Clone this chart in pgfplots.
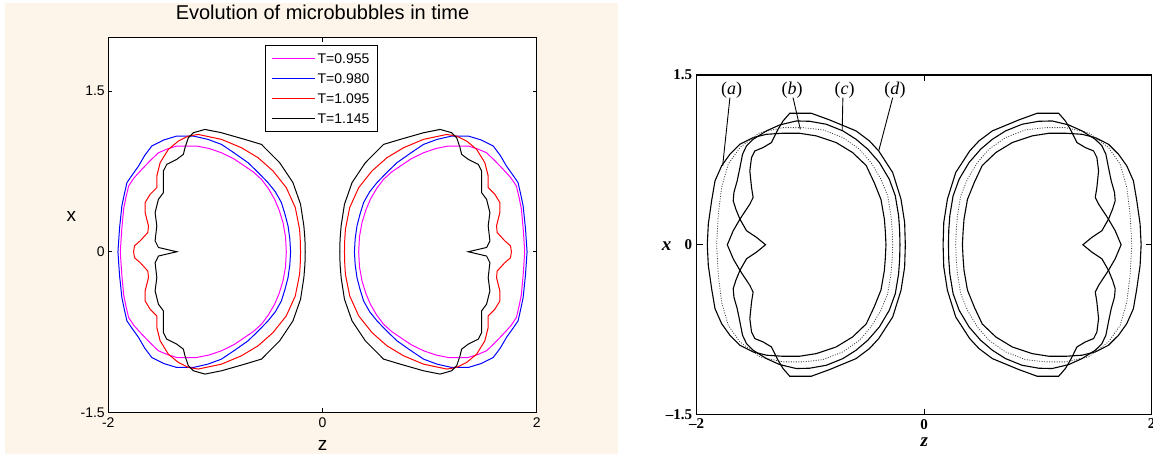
\documentclass[border=0pt]{standalone}
\usepackage{fontspec}
\setmainfont{Liberation Sans}
\newfontfamily\tnr{Liberation Serif}
\usepackage{pgfplots}
\pgfplotsset{compat=1.18}
\definecolor{beige}{RGB}{253,245,234}
\definecolor{mag}{RGB}{255,0,255}
\definecolor{blu}{RGB}{0,0,255}
\definecolor{rd}{RGB}{255,0,0}
\begin{document}
\begin{tikzpicture}
\path[use as bounding box] (0pt,0pt) rectangle (1153pt,-454pt);
\fill[beige] (5pt,-3pt) rectangle (618pt,-454pt);
% ---------------- left panel ----------------
\begin{axis}[
  at={(108.3pt,-412.3pt)}, anchor=south west,
  scale only axis, width=428.4pt, height=374.6pt,
  xmin=-2, xmax=2, ymin=-1.5, ymax=2,
  axis background/.style={fill=white},
  axis line style={line width=1pt},
  xtick={-2,0,2}, xticklabels={-2,0,2},
  ytick={-1.5,0,1.5}, yticklabels={-1.5,0,1.5},
  tick align=inside, major tick length=4pt, tick style={black,line width=0.8pt},
  ticklabel style={font=\fontsize{14}{14}\selectfont},
  xticklabel style={yshift=-2pt},
  title={Evolution of microbubbles in time},
  title style={font=\fontsize{20}{20}\selectfont, at={(axis description cs:0.5,1)}, anchor=base, yshift=12.5pt},
  xlabel={z}, xlabel style={font=\fontsize{19}{19}\selectfont, at={(axis description cs:0.5,0)}, anchor=base, yshift=-38pt},
  ylabel={x}, ylabel style={font=\fontsize{19}{19}\selectfont, rotate=-90, at={(axis description cs:-0.086,0.522)}, anchor=center},
  legend style={at={(axis description cs:0.366,0.9805)}, anchor=north west, draw=black, line width=1pt, fill=white,
    font=\fontsize{14}{14}\selectfont, row sep=6.3pt, column sep=0pt, inner xsep=6pt, inner ysep=5.5pt,
    nodes={inner sep=2pt, text height=10pt, text depth=0pt}, cells={anchor=west}},
  legend image code/.code={\draw[#1,line width=1pt] (0pt,0pt) -- (43pt,0pt);},
  every axis plot/.append style={line width=1pt},
]
\addplot[mag] coordinates {(-0.338,0) (-0.345,0.14) (-0.369,0.273) (-0.405,0.39) (-0.447,0.49) (-0.505,0.59) (-0.570,0.677) (-0.645,0.745) (-0.726,0.80) (-0.83,0.87) (-0.943,0.925) (-1.06,0.965) (-1.175,0.988) (-1.361,0.988) (-1.45,0.96) (-1.532,0.925) (-1.61,0.85) (-1.687,0.77) (-1.76,0.69) (-1.81,0.615) (-1.835,0.51) (-1.857,0.40) (-1.875,0.20) (-1.888,0) (-1.875,-0.20) (-1.857,-0.40) (-1.835,-0.51) (-1.81,-0.615) (-1.76,-0.69) (-1.687,-0.77) (-1.61,-0.85) (-1.532,-0.925) (-1.45,-0.96) (-1.361,-0.988) (-1.175,-0.988) (-1.06,-0.965) (-0.943,-0.925) (-0.83,-0.87) (-0.726,-0.80) (-0.645,-0.745) (-0.570,-0.677) (-0.505,-0.59) (-0.447,-0.49) (-0.405,-0.39) (-0.369,-0.273) (-0.345,-0.14) (-0.338,0)};
\addlegendentry{T=0.955}
\addplot[mag, forget plot] coordinates {(0.338,0) (0.345,0.14) (0.369,0.273) (0.405,0.39) (0.447,0.49) (0.505,0.59) (0.570,0.677) (0.645,0.745) (0.726,0.80) (0.83,0.87) (0.943,0.925) (1.06,0.965) (1.175,0.988) (1.361,0.988) (1.45,0.96) (1.532,0.925) (1.61,0.85) (1.687,0.77) (1.76,0.69) (1.81,0.615) (1.835,0.51) (1.857,0.40) (1.875,0.20) (1.888,0) (1.875,-0.20) (1.857,-0.40) (1.835,-0.51) (1.81,-0.615) (1.76,-0.69) (1.687,-0.77) (1.61,-0.85) (1.532,-0.925) (1.45,-0.96) (1.361,-0.988) (1.175,-0.988) (1.06,-0.965) (0.943,-0.925) (0.83,-0.87) (0.726,-0.80) (0.645,-0.745) (0.570,-0.677) (0.505,-0.59) (0.447,-0.49) (0.405,-0.39) (0.369,-0.273) (0.345,-0.14) (0.338,0)};
\addplot[blu] coordinates {(-0.298,0) (-0.305,0.12) (-0.322,0.242) (-0.35,0.35) (-0.384,0.46) (-0.44,0.56) (-0.509,0.646) (-0.60,0.74) (-0.695,0.832) (-0.82,0.92) (-0.943,1.003) (-1.07,1.05) (-1.206,1.081) (-1.361,1.081) (-1.48,1.045) (-1.594,0.988) (-1.66,0.90) (-1.718,0.80) (-1.775,0.72) (-1.826,0.646) (-1.85,0.54) (-1.873,0.43) (-1.895,0.22) (-1.91,0) (-1.895,-0.22) (-1.873,-0.43) (-1.85,-0.54) (-1.826,-0.646) (-1.775,-0.72) (-1.718,-0.80) (-1.66,-0.90) (-1.594,-0.988) (-1.48,-1.045) (-1.361,-1.081) (-1.206,-1.081) (-1.07,-1.05) (-0.943,-1.003) (-0.82,-0.92) (-0.695,-0.832) (-0.60,-0.74) (-0.509,-0.646) (-0.44,-0.56) (-0.384,-0.46) (-0.35,-0.35) (-0.322,-0.242) (-0.305,-0.12) (-0.298,0)};
\addlegendentry{T=0.980}
\addplot[blu, forget plot] coordinates {(0.298,0) (0.305,0.12) (0.322,0.242) (0.35,0.35) (0.384,0.46) (0.44,0.56) (0.509,0.646) (0.60,0.74) (0.695,0.832) (0.82,0.92) (0.943,1.003) (1.07,1.05) (1.206,1.081) (1.361,1.081) (1.48,1.045) (1.594,0.988) (1.66,0.90) (1.718,0.80) (1.775,0.72) (1.826,0.646) (1.85,0.54) (1.873,0.43) (1.895,0.22) (1.91,0) (1.895,-0.22) (1.873,-0.43) (1.85,-0.54) (1.826,-0.646) (1.775,-0.72) (1.718,-0.80) (1.66,-0.90) (1.594,-0.988) (1.48,-1.045) (1.361,-1.081) (1.206,-1.081) (1.07,-1.05) (0.943,-1.003) (0.82,-0.92) (0.695,-0.832) (0.60,-0.74) (0.509,-0.646) (0.44,-0.56) (0.384,-0.46) (0.35,-0.35) (0.322,-0.242) (0.305,-0.12) (0.298,0)};
\addplot[rd] coordinates {(-0.205,0) (-0.208,0.118) (-0.214,0.211) (-0.254,0.413) (-0.338,0.599) (-0.462,0.755) (-0.602,0.879) (-0.757,0.972) (-0.943,1.05) (-1.16,1.096) (-1.253,1.081) (-1.346,1.034) (-1.439,0.957) (-1.516,0.832) (-1.547,0.708) (-1.547,0.599) (-1.609,0.537) (-1.656,0.46) (-1.656,0.366) (-1.625,0.242) (-1.631,0.18) (-1.702,0.102) (-1.755,0.056) (-1.764,0) (-1.755,-0.056) (-1.702,-0.102) (-1.631,-0.18) (-1.625,-0.242) (-1.656,-0.366) (-1.656,-0.46) (-1.609,-0.537) (-1.547,-0.599) (-1.547,-0.708) (-1.516,-0.832) (-1.439,-0.957) (-1.346,-1.034) (-1.253,-1.081) (-1.16,-1.096) (-0.943,-1.05) (-0.757,-0.972) (-0.602,-0.879) (-0.462,-0.755) (-0.338,-0.599) (-0.254,-0.413) (-0.214,-0.211) (-0.208,-0.118) (-0.205,0)};
\addlegendentry{T=1.095}
\addplot[rd, forget plot] coordinates {(0.205,0) (0.208,0.118) (0.214,0.211) (0.254,0.413) (0.338,0.599) (0.462,0.755) (0.602,0.879) (0.757,0.972) (0.943,1.05) (1.16,1.096) (1.253,1.081) (1.346,1.034) (1.439,0.957) (1.516,0.832) (1.547,0.708) (1.547,0.599) (1.609,0.537) (1.656,0.46) (1.656,0.366) (1.625,0.242) (1.631,0.18) (1.702,0.102) (1.755,0.056) (1.764,0) (1.755,-0.056) (1.702,-0.102) (1.631,-0.18) (1.625,-0.242) (1.656,-0.366) (1.656,-0.46) (1.609,-0.537) (1.547,-0.599) (1.547,-0.708) (1.516,-0.832) (1.439,-0.957) (1.346,-1.034) (1.253,-1.081) (1.16,-1.096) (0.943,-1.05) (0.757,-0.972) (0.602,-0.879) (0.462,-0.755) (0.338,-0.599) (0.254,-0.413) (0.214,-0.211) (0.208,-0.118) (0.205,0)};
\addplot[black] coordinates {(-0.161,0) (-0.164,0.118) (-0.174,0.242) (-0.205,0.444) (-0.276,0.646) (-0.40,0.832) (-0.57,1.003) (-0.726,1.05) (-0.943,1.112) (-1.098,1.143) (-1.206,1.112) (-1.253,1.065) (-1.284,0.972) (-1.299,0.91) (-1.361,0.863) (-1.454,0.817) (-1.485,0.755) (-1.485,0.553) (-1.532,0.49) (-1.563,0.366) (-1.547,0.242) (-1.563,0.102) (-1.532,0.04) (-1.361,0) (-1.532,-0.04) (-1.563,-0.102) (-1.547,-0.242) (-1.563,-0.366) (-1.532,-0.49) (-1.485,-0.553) (-1.485,-0.755) (-1.454,-0.817) (-1.361,-0.863) (-1.299,-0.91) (-1.284,-0.972) (-1.253,-1.065) (-1.206,-1.112) (-1.098,-1.143) (-0.943,-1.112) (-0.726,-1.05) (-0.57,-1.003) (-0.40,-0.832) (-0.276,-0.646) (-0.205,-0.444) (-0.174,-0.242) (-0.164,-0.118) (-0.161,0)};
\addlegendentry{T=1.145}
\addplot[black, forget plot] coordinates {(0.161,0) (0.164,0.118) (0.174,0.242) (0.205,0.444) (0.276,0.646) (0.40,0.832) (0.57,1.003) (0.726,1.05) (0.943,1.112) (1.098,1.143) (1.206,1.112) (1.253,1.065) (1.284,0.972) (1.299,0.91) (1.361,0.863) (1.454,0.817) (1.485,0.755) (1.485,0.553) (1.532,0.49) (1.563,0.366) (1.547,0.242) (1.563,0.102) (1.532,0.04) (1.361,0) (1.532,-0.04) (1.563,-0.102) (1.547,-0.242) (1.563,-0.366) (1.532,-0.49) (1.485,-0.553) (1.485,-0.755) (1.454,-0.817) (1.361,-0.863) (1.299,-0.91) (1.284,-0.972) (1.253,-1.065) (1.206,-1.112) (1.098,-1.143) (0.943,-1.112) (0.726,-1.05) (0.57,-1.003) (0.40,-0.832) (0.276,-0.646) (0.205,-0.444) (0.174,-0.242) (0.164,-0.118) (0.161,0)};
\end{axis}
% ---------------- right panel ----------------
\begin{axis}[
  at={(696.7pt,-414.5pt)}, anchor=south west,
  scale only axis, width=455pt, height=339.5pt,
  xmin=-2, xmax=2, ymin=-1.5, ymax=1.5,
  axis line style={line width=1.2pt},
  xtick={-2,0,2}, xticklabels={–2,0,2},
  ytick={-1.5,0,1.5}, yticklabels={–1.5,0,1.5},
  tick align=inside, major tick length=6pt, tick style={black,line width=1.1pt},
  ticklabel style={font=\tnr\bfseries\fontsize{15}{15}\selectfont},
  xticklabel style={yshift=-1pt},
  yticklabel style={xshift=-1pt},
  xlabel={z}, xlabel style={font=\tnr\bfseries\itshape\fontsize{19}{19}\selectfont, at={(axis description cs:0.5,-0.082)}, anchor=center},
  ylabel={x}, ylabel style={font=\tnr\bfseries\itshape\fontsize{19}{19}\selectfont, rotate=-90, at={(axis description cs:-0.066,0.497)}, anchor=center},
]
\addplot[black, line width=1.1pt] coordinates {(-0.336,0) (-0.342,0.12) (-0.35,0.226) (-0.38,0.40) (-0.44,0.55) (-0.51,0.70) (-0.63,0.815) (-0.774,0.903) (-0.949,0.962) (-1.095,0.985) (-1.25,0.985) (-1.387,0.976) (-1.504,0.947) (-1.62,0.888) (-1.708,0.80) (-1.781,0.697) (-1.839,0.565) (-1.869,0.388) (-1.898,0.182) (-1.907,0) (-1.898,-0.182) (-1.869,-0.388) (-1.839,-0.565) (-1.781,-0.697) (-1.708,-0.80) (-1.62,-0.888) (-1.504,-0.947) (-1.387,-0.976) (-1.25,-0.985) (-1.095,-0.985) (-0.949,-0.962) (-0.774,-0.903) (-0.63,-0.815) (-0.51,-0.70) (-0.44,-0.55) (-0.38,-0.40) (-0.35,-0.226) (-0.342,-0.12) (-0.336,0)};
\addplot[black, line width=1.1pt] coordinates {(0.336,0) (0.342,0.12) (0.35,0.226) (0.38,0.40) (0.44,0.55) (0.51,0.70) (0.63,0.815) (0.774,0.903) (0.949,0.962) (1.095,0.985) (1.25,0.985) (1.387,0.976) (1.504,0.947) (1.62,0.888) (1.708,0.80) (1.781,0.697) (1.839,0.565) (1.869,0.388) (1.898,0.182) (1.907,0) (1.898,-0.182) (1.869,-0.388) (1.839,-0.565) (1.781,-0.697) (1.708,-0.80) (1.62,-0.888) (1.504,-0.947) (1.387,-0.976) (1.25,-0.985) (1.095,-0.985) (0.949,-0.962) (0.774,-0.903) (0.63,-0.815) (0.51,-0.70) (0.44,-0.55) (0.38,-0.40) (0.35,-0.226) (0.342,-0.12) (0.336,0)};
\addplot[line width=0.8pt, black!75, dash pattern=on 1pt off 1.5pt] coordinates {(-0.277,0) (-0.282,0.13) (-0.292,0.256) (-0.321,0.432) (-0.38,0.579) (-0.467,0.726) (-0.569,0.844) (-0.715,0.947) (-0.89,1.015) (-1.066,1.035) (-1.24,1.035) (-1.445,0.991) (-1.62,0.859) (-1.723,0.712) (-1.781,0.506) (-1.81,0.27) (-1.825,0) (-1.81,-0.27) (-1.781,-0.506) (-1.723,-0.712) (-1.62,-0.859) (-1.445,-0.991) (-1.24,-1.035) (-1.066,-1.035) (-0.89,-1.015) (-0.715,-0.947) (-0.569,-0.844) (-0.467,-0.726) (-0.38,-0.579) (-0.321,-0.432) (-0.292,-0.256) (-0.282,-0.13) (-0.277,0)};
\addplot[line width=0.8pt, black!75, dash pattern=on 1pt off 1.5pt] coordinates {(0.277,0) (0.282,0.13) (0.292,0.256) (0.321,0.432) (0.38,0.579) (0.467,0.726) (0.569,0.844) (0.715,0.947) (0.89,1.015) (1.066,1.035) (1.24,1.035) (1.445,0.991) (1.62,0.859) (1.723,0.712) (1.781,0.506) (1.81,0.27) (1.825,0) (1.81,-0.27) (1.781,-0.506) (1.723,-0.712) (1.62,-0.859) (1.445,-0.991) (1.24,-1.035) (1.066,-1.035) (0.89,-1.015) (0.715,-0.947) (0.569,-0.844) (0.467,-0.726) (0.38,-0.579) (0.321,-0.432) (0.292,-0.256) (0.282,-0.13) (0.277,0)};
\addplot[black, line width=1.1pt] coordinates {(-0.213,0) (-0.216,0.13) (-0.225,0.256) (-0.254,0.432) (-0.307,0.579) (-0.394,0.726) (-0.496,0.844) (-0.599,0.932) (-0.715,1.006) (-0.861,1.065) (-1.007,1.091) (-1.124,1.094) (-1.27,1.059) (-1.387,1.006) (-1.504,0.932) (-1.562,0.874) (-1.597,0.80) (-1.62,0.682) (-1.644,0.565) (-1.673,0.462) (-1.679,0.388) (-1.656,0.315) (-1.62,0.226) (-1.679,0.124) (-1.731,0) (-1.679,-0.124) (-1.62,-0.226) (-1.656,-0.315) (-1.679,-0.388) (-1.673,-0.462) (-1.644,-0.565) (-1.62,-0.682) (-1.597,-0.80) (-1.562,-0.874) (-1.504,-0.932) (-1.387,-1.006) (-1.27,-1.059) (-1.124,-1.094) (-1.007,-1.091) (-0.861,-1.065) (-0.715,-1.006) (-0.599,-0.932) (-0.496,-0.844) (-0.394,-0.726) (-0.307,-0.579) (-0.254,-0.432) (-0.225,-0.256) (-0.216,-0.13) (-0.213,0)};
\addplot[black, line width=1.1pt] coordinates {(0.213,0) (0.216,0.13) (0.225,0.256) (0.254,0.432) (0.307,0.579) (0.394,0.726) (0.496,0.844) (0.599,0.932) (0.715,1.006) (0.861,1.065) (1.007,1.091) (1.124,1.094) (1.27,1.059) (1.387,1.006) (1.504,0.932) (1.562,0.874) (1.597,0.80) (1.62,0.682) (1.644,0.565) (1.673,0.462) (1.679,0.388) (1.656,0.315) (1.62,0.226) (1.679,0.124) (1.731,0) (1.679,-0.124) (1.62,-0.226) (1.656,-0.315) (1.679,-0.388) (1.673,-0.462) (1.644,-0.565) (1.62,-0.682) (1.597,-0.80) (1.562,-0.874) (1.504,-0.932) (1.387,-1.006) (1.27,-1.059) (1.124,-1.094) (1.007,-1.091) (0.861,-1.065) (0.715,-1.006) (0.599,-0.932) (0.496,-0.844) (0.394,-0.726) (0.307,-0.579) (0.254,-0.432) (0.225,-0.256) (0.216,-0.13) (0.213,0)};
\addplot[black, line width=1.1pt] coordinates {(-0.166,0) (-0.172,0.197) (-0.204,0.403) (-0.277,0.638) (-0.40,0.829) (-0.482,0.918) (-0.599,1.006) (-0.832,1.103) (-0.993,1.162) (-1.182,1.162) (-1.241,1.094) (-1.285,1.02) (-1.314,0.962) (-1.343,0.903) (-1.416,0.859) (-1.489,0.829) (-1.518,0.771) (-1.533,0.653) (-1.518,0.506) (-1.504,0.418) (-1.533,0.359) (-1.591,0.271) (-1.62,0.226) (-1.562,0.124) (-1.474,0.065) (-1.395,0) (-1.474,-0.065) (-1.562,-0.124) (-1.62,-0.226) (-1.591,-0.271) (-1.533,-0.359) (-1.504,-0.418) (-1.518,-0.506) (-1.533,-0.653) (-1.518,-0.771) (-1.489,-0.829) (-1.416,-0.859) (-1.343,-0.903) (-1.314,-0.962) (-1.285,-1.02) (-1.241,-1.094) (-1.182,-1.162) (-0.993,-1.162) (-0.832,-1.103) (-0.599,-1.006) (-0.482,-0.918) (-0.40,-0.829) (-0.277,-0.638) (-0.204,-0.403) (-0.172,-0.197) (-0.166,0)};
\addplot[black, line width=1.1pt] coordinates {(0.166,0) (0.172,0.197) (0.204,0.403) (0.277,0.638) (0.40,0.829) (0.482,0.918) (0.599,1.006) (0.832,1.103) (0.993,1.162) (1.182,1.162) (1.241,1.094) (1.285,1.02) (1.314,0.962) (1.343,0.903) (1.416,0.859) (1.489,0.829) (1.518,0.771) (1.533,0.653) (1.518,0.506) (1.504,0.418) (1.533,0.359) (1.591,0.271) (1.62,0.226) (1.562,0.124) (1.474,0.065) (1.395,0) (1.474,-0.065) (1.562,-0.124) (1.62,-0.226) (1.591,-0.271) (1.533,-0.359) (1.504,-0.418) (1.518,-0.506) (1.533,-0.653) (1.518,-0.771) (1.489,-0.829) (1.416,-0.859) (1.343,-0.903) (1.314,-0.962) (1.285,-1.02) (1.241,-1.094) (1.182,-1.162) (0.993,-1.162) (0.832,-1.103) (0.599,-1.006) (0.482,-0.918) (0.40,-0.829) (0.277,-0.638) (0.204,-0.403) (0.172,-0.197) (0.166,0)};
\draw[line width=0.9pt] (axis cs:-1.708,1.30) -- (axis cs:-1.772,0.697);
\draw[line width=0.9pt] (axis cs:-1.153,1.30) -- (axis cs:-1.089,1.02);
\draw[line width=0.9pt] (axis cs:-0.715,1.30) -- (axis cs:-0.721,1.006);
\draw[line width=0.9pt] (axis cs:-0.277,1.30) -- (axis cs:-0.40,0.829);
\node[font=\tnr\fontsize{18}{18}\selectfont] at (axis cs:-1.693,1.365) {(\textit{a})};
\node[font=\tnr\fontsize{18}{18}\selectfont] at (axis cs:-1.162,1.365) {(\textit{b})};
\node[font=\tnr\fontsize{18}{18}\selectfont] at (axis cs:-0.70,1.365) {(\textit{c})};
\node[font=\tnr\fontsize{18}{18}\selectfont] at (axis cs:-0.257,1.365) {(\textit{d})};
\end{axis}
\end{tikzpicture}
\end{document}
